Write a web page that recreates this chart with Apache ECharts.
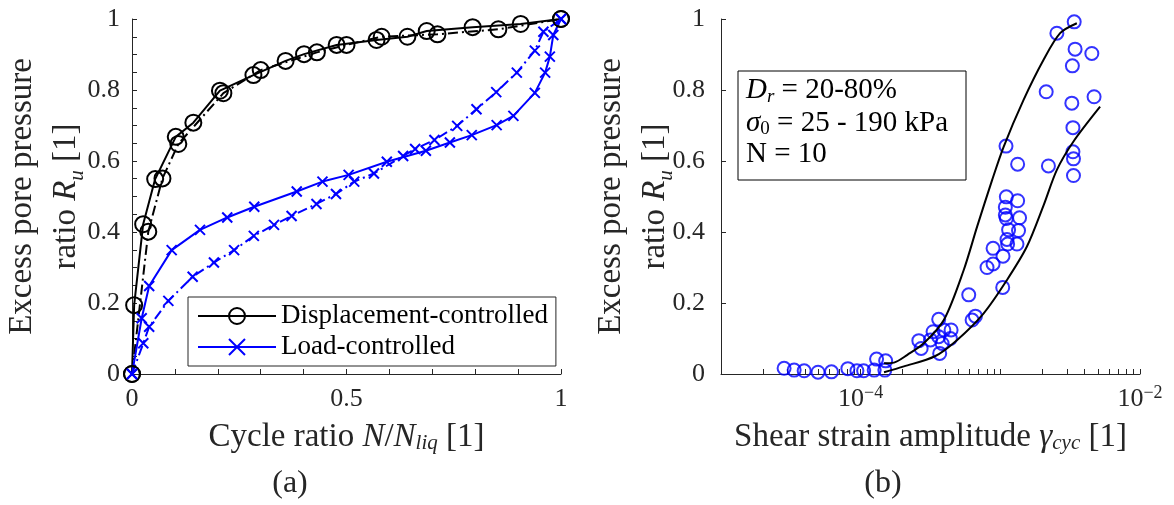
<!DOCTYPE html>
<html>
<head>
<meta charset="utf-8">
<script src="https://cdn.jsdelivr.net/npm/echarts@6/dist/echarts.min.js"></script>
<style>
  html, body { margin: 0; padding: 0; background: #fff; }
  #chart { width: 1174px; height: 505px; }
</style>
</head>
<body>
<div id="chart"></div>
<script>
// ---------- Panel (a): cycle ratio vs Ru ----------
const dispSolidX = [0, 0.005, 0.026, 0.054, 0.102, 0.143, 0.205, 0.283, 0.358, 0.401, 0.477, 0.570, 0.642, 0.687, 0.794, 0.906, 1.0];
const dispSolidY = [0, 0.194, 0.422, 0.549, 0.668, 0.708, 0.798, 0.842, 0.882, 0.901, 0.927, 0.941, 0.950, 0.966, 0.977, 0.986, 1.0];
const dispDashX = [0, 0.038, 0.071, 0.108, 0.213, 0.300, 0.431, 0.500, 0.582, 0.712, 0.854, 1.0];
const dispDashY = [0, 0.401, 0.551, 0.648, 0.791, 0.856, 0.906, 0.927, 0.950, 0.957, 0.971, 1.0];
const loadSolidX = [0, 0.0226, 0.040, 0.0925, 0.1585, 0.222, 0.285, 0.384, 0.444, 0.505, 0.594, 0.685, 0.741, 0.792, 0.850, 0.889, 0.939, 0.963, 0.974, 0.982, 1.0];
const loadSolidY = [0, 0.157, 0.248, 0.349, 0.406, 0.441, 0.471, 0.514, 0.542, 0.561, 0.598, 0.629, 0.652, 0.673, 0.701, 0.727, 0.792, 0.849, 0.894, 0.955, 1.0];
const loadDashX = [0, 0.0263, 0.040, 0.0847, 0.1414, 0.191, 0.238, 0.284, 0.331, 0.372, 0.430, 0.4755, 0.518, 0.564, 0.632, 0.660, 0.705, 0.758, 0.803, 0.849, 0.897, 0.939, 0.959, 1.0];
const loadDashY = [0, 0.0865, 0.133, 0.206, 0.274, 0.314, 0.349, 0.389, 0.420, 0.445, 0.479, 0.507, 0.542, 0.565, 0.614, 0.634, 0.659, 0.699, 0.746, 0.794, 0.849, 0.911, 0.964, 1.0];
const legendNames = ['Displacement-controlled', 'Load-controlled'];

// ---------- Panel (b): shear strain amplitude vs Ru ----------
const upperCurveX = [1.47e-4, 1.73e-4, 2.16e-4, 2.83e-4, 3.94e-4, 5.47e-4, 6.82e-4, 8.73e-4, 1.056e-3, 1.467e-3, 2.04e-3, 2.68e-3, 3.53e-3];
const upperCurveY = [0.030, 0.032, 0.054, 0.0865, 0.152, 0.293, 0.415, 0.546, 0.640, 0.772, 0.885, 0.960, 0.988];
const lowerCurveX = [1.47e-4, 2.04e-4, 3.4e-4, 4.91e-4, 7.6e-4, 1.116e-3, 1.55e-3, 2.04e-3, 2.54e-3, 3.34e-3, 5.18e-3];
const lowerCurveY = [0.005, 0.0214, 0.05, 0.096, 0.171, 0.265, 0.359, 0.475, 0.575, 0.655, 0.753];
const strainX = [2.83e-5, 3.34e-5, 3.94e-5, 4.95e-5, 6.18e-5, 8.1e-5, 9.4e-5, 1.05e-4, 1.25e-4, 1.49e-4, 1.30e-4, 1.51e-4,
  2.61e-4, 2.71e-4, 3.16e-4, 3.30e-4, 3.62e-4, 3.62e-4, 3.68e-4, 3.83e-4, 3.94e-4, 4.39e-4, 4.44e-4,
  5.94e-4, 6.28e-4, 6.63e-4, 8.03e-4, 8.87e-4, 8.87e-4, 1.04e-3, 1.045e-3, 1.086e-3, 1.086e-3, 1.104e-3, 1.104e-3,
  1.116e-3, 1.128e-3, 1.146e-3, 1.316e-3, 1.33e-3, 1.35e-3, 1.373e-3, 1.098e-3, 1.33e-3, 2.13e-3, 2.21e-3, 2.54e-3,
  3.25e-3, 3.28e-3, 3.31e-3, 3.31e-3, 3.34e-3, 3.34e-3, 3.38e-3, 3.43e-3, 4.52e-3, 4.69e-3];
const strainRu = [0.016, 0.011, 0.009, 0.005, 0.006, 0.015, 0.009, 0.009, 0.011, 0.011, 0.042, 0.037,
  0.094, 0.072, 0.096, 0.119, 0.154, 0.105, 0.058, 0.086, 0.124, 0.100, 0.124,
  0.223, 0.152, 0.163, 0.300, 0.310, 0.354, 0.244, 0.332, 0.470, 0.448, 0.438, 0.499,
  0.379, 0.366, 0.406, 0.366, 0.488, 0.404, 0.440, 0.642, 0.591, 0.795, 0.586, 0.960,
  0.763, 0.868, 0.694, 0.626, 0.606, 0.559, 0.992, 0.915, 0.903, 0.781];
const logTickValues = [1e-5, 2e-5, 3e-5, 4e-5, 5e-5, 6e-5, 7e-5, 8e-5, 9e-5,
  1e-4, 2e-4, 3e-4, 4e-4, 5e-4, 6e-4, 7e-4, 8e-4, 9e-4,
  1e-3, 2e-3, 3e-3, 4e-3, 5e-3, 6e-3, 7e-3, 8e-3, 9e-3, 1e-2];
const logLabelValues = [1e-4, 1e-2];

function zip(xs, ys) { return xs.map((x, i) => [x, ys[i]]); }

const F = "'Liberation Serif', 'DejaVu Serif', serif";
const AX = '#262626';
const BLUE = '#0000ff';
const XSYM = 'path://M0,0L10,10M10,0L0,10';
const TF = 33; // title font size

const tickLabel = { fontFamily: F, fontSize: 26, color: AX };
const yNameRich = {
  t: { fontFamily: F, fontSize: TF, color: AX, lineHeight: 44 },
  i: { fontFamily: F, fontSize: TF, color: AX, lineHeight: 44, fontStyle: 'italic' },
  s: { fontFamily: F, fontSize: 21, color: AX, lineHeight: 30, fontStyle: 'italic', verticalAlign: 'bottom' }
};
const xNameRich = {
  t: { fontFamily: F, fontSize: TF, color: AX, lineHeight: 34 },
  i: { fontFamily: F, fontSize: TF, color: AX, lineHeight: 34, fontStyle: 'italic' },
  s: { fontFamily: F, fontSize: 21, color: AX, lineHeight: 22, fontStyle: 'italic', verticalAlign: 'bottom' }
};
const yName = '{t|Excess pore pressure}\n{t|ratio }{i|R}{s|u}{t| [1]}';

const axisCommon = {
  axisLine: { lineStyle: { color: AX, width: 1 } },
  axisTick: { inside: true, length: 5, lineStyle: { color: AX } },
  splitLine: { show: false },
  nameMoveOverlap: false
};

function lineSeries(name, xs, ys, xi, yi, color, dashed, symbol, size) {
  return {
    type: 'line', name: name, xAxisIndex: xi, yAxisIndex: yi,
    data: zip(xs, ys), showAllSymbol: true,
    symbol: symbol, symbolSize: size,
    lineStyle: { color: color, width: 2, type: dashed ? [10, 4, 2, 4] : 'solid' },
    itemStyle: { color: 'transparent', borderColor: color, borderWidth: 2 },
    emphasis: { disabled: true }
  };
}

const chart = echarts.init(document.getElementById('chart'), null, { renderer: 'canvas' });
chart.setOption({
  animation: false,
  backgroundColor: '#fff',
  grid: [
    { left: 132, top: 19, width: 429, height: 355, containLabel: false, outerBoundsMode: 'none' },
    { left: 721, top: 19, width: 419, height: 355, containLabel: false, outerBoundsMode: 'none' }
  ],
  xAxis: [
    Object.assign({}, axisCommon, {
      type: 'value', gridIndex: 0, min: 0, max: 1, interval: 0.5,
      minorTick: { show: true, splitNumber: 5, length: 5, lineStyle: { color: AX } },
      axisLabel: Object.assign({ margin: 12 }, tickLabel),
      name: '{t|Cycle ratio }{i|N}{t|/}{i|N}{s|liq}{t| [1]}', nameLocation: 'middle', nameGap: 46,
      nameTextStyle: { rich: xNameRich }
    }),
    Object.assign({}, axisCommon, {
      type: 'log', logBase: 10, gridIndex: 1, min: 1e-5, max: 1e-2,
      axisTick: { inside: true, length: 5, lineStyle: { color: AX }, customValues: logTickValues },
      axisLabel: {
        margin: 10, customValues: logLabelValues,
        formatter: function (v) {
          const e = Math.round(Math.log10(v));
          return '{n|10}{sup|\u2212' + Math.abs(e) + '}';
        },
        rich: {
          n: { fontFamily: F, fontSize: 26, color: AX, lineHeight: 30 },
          sup: { fontFamily: F, fontSize: 18, color: AX, lineHeight: 14, verticalAlign: 'top' }
        }
      },
      name: '{t|Shear strain amplitude }{i|\u03b3}{s|cyc}{t| [1]}', nameLocation: 'middle', nameGap: 46,
      nameTextStyle: { rich: xNameRich }
    })
  ],
  yAxis: [
    Object.assign({}, axisCommon, {
      type: 'value', gridIndex: 0, min: 0, max: 1, interval: 0.2,
      minorTick: { show: true, splitNumber: 4, length: 5, lineStyle: { color: AX } },
      axisLabel: Object.assign({ margin: 12 }, tickLabel),
      name: yName, nameLocation: 'middle', nameGap: 44, nameRotate: 90,
      nameTextStyle: { rich: yNameRich }
    }),
    Object.assign({}, axisCommon, {
      type: 'value', gridIndex: 1, min: 0, max: 1, interval: 0.2,
      axisLabel: Object.assign({ margin: 16 }, tickLabel),
      name: yName, nameLocation: 'middle', nameGap: 44, nameRotate: 90,
      nameTextStyle: { rich: yNameRich }
    })
  ],
  legend: {
    data: legendNames, orient: 'vertical', left: 188, top: 297,
    padding: [5, 8, 5, 9], itemGap: 3, itemWidth: 78, itemHeight: 20,
    borderColor: AX, borderWidth: 1, backgroundColor: '#fff',
    selectedMode: false,
    textStyle: { fontFamily: F, fontSize: 27, color: '#000', lineHeight: 28 }
  },
  graphic: [
    { type: 'rect', shape: { x: 738, y: 71, width: 228, height: 109 },
      style: { fill: '#fff', stroke: '#000', lineWidth: 1 }, z: 100 },
    { type: 'text', x: 746, y: 90, z: 101, style: {
        text: '{i|D}{s|r}{t| = 20-80%}', verticalAlign: 'middle',
        rich: {
          t: { fontFamily: F, fontSize: 29, fill: '#000', lineHeight: 32 },
          i: { fontFamily: F, fontSize: 29, fill: '#000', lineHeight: 32, fontStyle: 'italic' },
          s: { fontFamily: F, fontSize: 19, fill: '#000', lineHeight: 20, fontStyle: 'italic', verticalAlign: 'bottom' }
        } } },
    { type: 'text', x: 746, y: 123, z: 101, style: {
        text: '{i|\u03c3}{s|0}{t| = 25 - 190 kPa}', verticalAlign: 'middle',
        rich: {
          t: { fontFamily: F, fontSize: 29, fill: '#000', lineHeight: 32 },
          i: { fontFamily: F, fontSize: 29, fill: '#000', lineHeight: 32, fontStyle: 'italic' },
          s: { fontFamily: F, fontSize: 19, fill: '#000', lineHeight: 20, verticalAlign: 'bottom' }
        } } },
    { type: 'text', x: 746, y: 154, z: 101, style: {
        text: 'N = 10', verticalAlign: 'middle', font: "29px 'Liberation Serif', serif", fill: '#000' } },
    { type: 'text', x: 290, y: 484, style: {
        text: '(a)', align: 'center', verticalAlign: 'middle', font: "32px 'Liberation Serif', serif", fill: AX } },
    { type: 'text', x: 883, y: 484, style: {
        text: '(b)', align: 'center', verticalAlign: 'middle', font: "32px 'Liberation Serif', serif", fill: AX } }
  ],
  series: [
    lineSeries(legendNames[0], dispSolidX, dispSolidY, 0, 0, '#000', false, 'circle', 16),
    lineSeries(legendNames[0], dispDashX, dispDashY, 0, 0, '#000', true, 'circle', 16),
    lineSeries(legendNames[1], loadSolidX, loadSolidY, 0, 0, BLUE, false, XSYM, 10),
    lineSeries(legendNames[1], loadDashX, loadDashY, 0, 0, BLUE, true, XSYM, 10),
    {
      type: 'scatter', xAxisIndex: 1, yAxisIndex: 1, data: zip(strainX, strainRu),
      symbol: 'circle', symbolSize: 13,
      itemStyle: { color: 'transparent', borderColor: BLUE, borderWidth: 2 },
      emphasis: { disabled: true }
    },
    {
      type: 'line', xAxisIndex: 1, yAxisIndex: 1, data: zip(upperCurveX, upperCurveY),
      symbol: 'none', smooth: 0.3, lineStyle: { color: '#000', width: 2 }, emphasis: { disabled: true }
    },
    {
      type: 'line', xAxisIndex: 1, yAxisIndex: 1, data: zip(lowerCurveX, lowerCurveY),
      symbol: 'none', smooth: 0.3, lineStyle: { color: '#000', width: 2 }, emphasis: { disabled: true }
    }
  ]
});
</script>
</body>
</html>
